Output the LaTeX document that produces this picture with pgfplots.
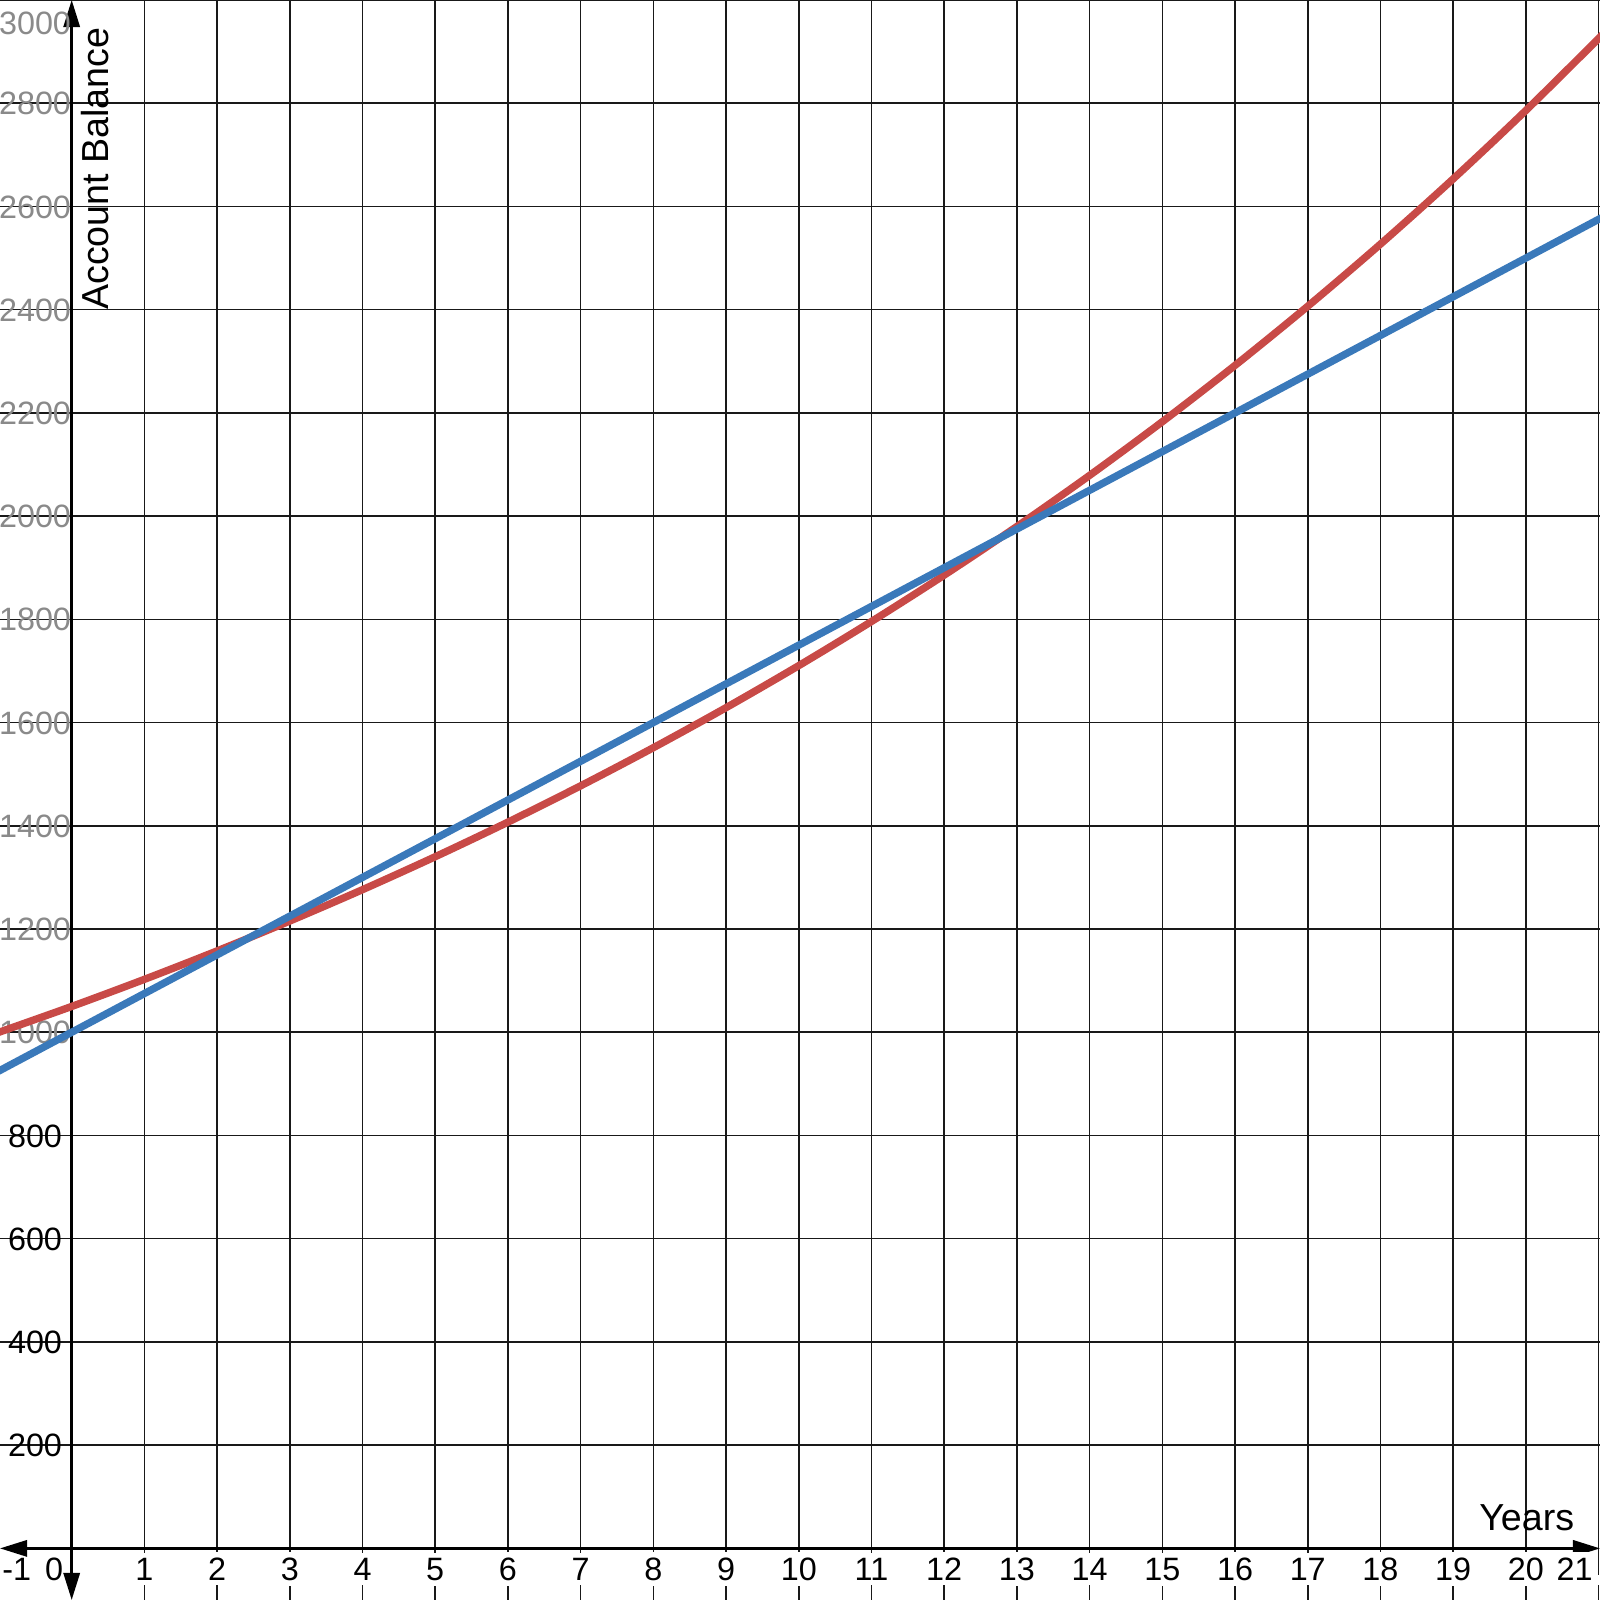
\documentclass[border=0pt]{standalone}
\usepackage{pgfplots}
\pgfplotsset{compat=1.18}
\usepackage{fontspec}
\setmainfont{Liberation Sans}
\usetikzlibrary{arrows.meta}
\definecolor{dred}{HTML}{C84A47}
\definecolor{dblue}{HTML}{3A79BA}
\definecolor{lblgray}{HTML}{8A8A8A}
\newcommand{\g}[1]{\textcolor{lblgray}{#1}}
\newcommand{\s}[1]{#1\kern0.09cm\relax}
\begin{document}
\begin{tikzpicture}
\begin{axis}[
  scale only axis, width=16cm, height=16cm,
  xmin=-0.986, xmax=21.02, ymin=-100, ymax=3000,
  axis lines=middle,
  axis line style={{Triangle[length=7.7pt,width=4.6pt]}-{Triangle[length=7.7pt,width=4.6pt]}, line width=0.75pt, black},
  clip mode=individual,
  grid=major,
  major grid style={black!90, line width=0.45pt},
  major tick length=0pt,
  xtick={1,2,...,21},
  xticklabels={1,2,3,4,5,6,7,8,9,10,11,12,13,14,15,16,17,18,19,20,{}},
  ytick={200,400,...,3000},
  yticklabels={\s{200},\s{400},\s{600},\s{800},\g{1000},\g{1200},\g{1400},\g{1600},\g{1800},\g{2000},\g{2200},\g{2400},\g{2600},\g{2800},\raisebox{-0.23cm}{\g{3000}}},
  xticklabel style={anchor=base, yshift=-0.317cm, inner sep=1.5pt, fill=white, font=\fontsize{9.2}{11}\selectfont},
  yticklabel style={anchor=base east, yshift=-3.3pt, xshift=0pt, inner sep=0pt, font=\fontsize{9.2}{11}\selectfont},
]
\addplot[color=dred, line width=2.1pt, smooth] coordinates {
(-1.1,995.1) (-1,1000) (0,1050) (1,1102.5) (2,1157.63) (3,1215.51) (4,1276.28) (5,1340.10)
(6,1407.10) (7,1477.46) (8,1551.33) (9,1628.89) (10,1710.34) (11,1795.86)
(12,1885.65) (13,1979.93) (14,2078.93) (15,2182.87) (16,2292.02) (17,2406.62)
(18,2526.95) (19,2653.30) (20,2785.96) (21,2925.26) (21.1,2939.6)};
\addplot[color=dblue, line width=2.1pt] coordinates {(-1.1,917.5) (21.1,2582.5)};
\node[anchor=base, inner sep=0pt, font=\fontsize{9.2}{11}\selectfont] at (axis cs:-0.757,-61.4) {-1};
\node[anchor=base, inner sep=0pt, font=\fontsize{9.2}{11}\selectfont] at (axis cs:-0.24,-61.4) {0};
\node[anchor=base, inner sep=1.5pt, fill=white, font=\fontsize{9.2}{11}\selectfont] at (axis cs:20.67,-61.4) {21};
\node[anchor=base west, inner sep=0pt, font=\fontsize{10.7}{12}\selectfont] at (axis cs:19.35,35.5) {Years};
\node[anchor=base east, rotate=90, inner sep=0pt, font=\fontsize{10.7}{12}\selectfont] at (axis cs:0.5,2948) {Account Balance};
\end{axis}
\pgfresetboundingbox
\useasboundingbox (current axis.south west) rectangle (current axis.north east);
\end{tikzpicture}
\end{document}
